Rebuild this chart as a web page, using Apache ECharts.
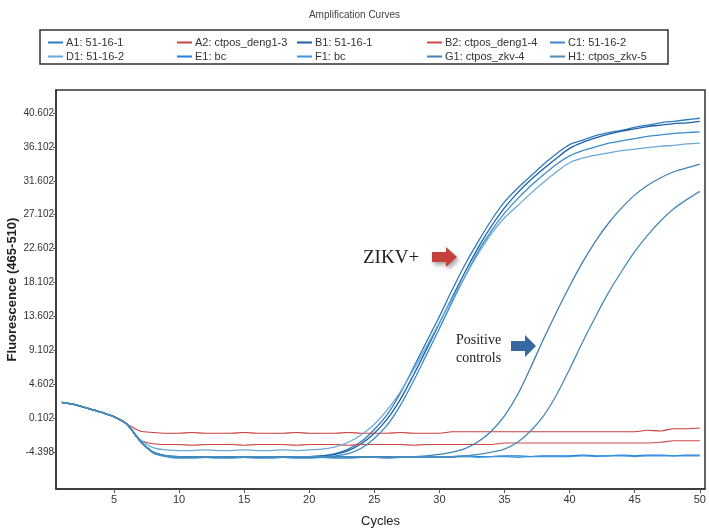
<!DOCTYPE html>
<html>
<head>
<meta charset="utf-8">
<script src="https://cdn.jsdelivr.net/npm/echarts@6.0.0/dist/echarts.min.js"></script>
<style>
  html, body { margin: 0; padding: 0; background: #ffffff; }
  #chart { width: 709px; height: 530px; }
</style>
</head>
<body>
<div id="chart"></div>
<script>
// qPCR amplification curves, fluorescence (465-510) per cycle
const cycles = [1, 2, 3, 4, 5, 6, 7, 8, 9, 10, 11, 12, 13, 14, 15, 16, 17, 18, 19, 20,
  21, 22, 23, 24, 25, 26, 27, 28, 29, 30, 31, 32, 33, 34, 35, 36, 37, 38, 39, 40,
  41, 42, 43, 44, 45, 46, 47, 48, 49, 50]

const xTicks = [5, 10, 15, 20, 25, 30, 35, 40, 45, 50]
const yTicks = [-4.398, 0.102, 4.602, 9.102, 13.602, 18.102, 22.602, 27.102, 31.602, 36.102, 40.602]

const A1 = [2.2, 1.9, 1.4, 0.9, 0.3, -0.7, -2.9, -4.4, -4.9,
  -5.0, -5.1, -5.0, -5.0, -5.1, -5.0, -5.0, -5.0, -5.1, -5.0, -5.0,
  -4.9, -4.6, -4.0, -3.0, -1.4, 0.6, 3.4, 6.8, 10.2, 13.6,
  17.2, 20.6, 23.6, 26.4, 28.8, 30.6, 32.2, 33.8, 35.2, 36.4,
  37.0, 37.6, 38.0, 38.3, 38.7, 39.0, 39.3, 39.5, 39.7, 39.9]
const A2 = [2.2, 1.9, 1.4, 0.9, 0.3, -0.7, -1.6, -1.8,
  -1.9, -1.9, -1.8, -1.9, -1.9, -1.9, -1.8, -1.9, -1.9, -1.9, -1.8,
  -1.9, -1.9, -1.9, -1.8, -1.9, -1.9, -1.9, -1.8, -1.9, -1.9, -1.9,
  -1.7, -1.7, -1.7, -1.7, -1.7, -1.7, -1.7, -1.7, -1.7, -1.7, -1.7, -1.7, -1.7, -1.7, -1.7,
  -1.5, -1.6, -1.3, -1.3, -1.2]
const B1 = [2.2, 1.9, 1.4, 0.9, 0.3, -0.7, -2.9, -4.4, -4.9,
  -5.1, -5.1, -5.0, -5.1, -5.1, -5.0, -5.1, -5.0, -5.1, -5.1, -5.0,
  -4.9, -4.7, -4.2, -3.3, -1.9, 0.0, 2.6, 5.8, 9.2, 12.7,
  16.2, 19.6, 22.8, 25.6, 28.0, 30.0, 31.7, 33.2, 34.6, 35.9,
  36.7, 37.3, 37.8, 38.2, 38.5, 38.8, 39.0, 39.2, 39.3, 39.5]
const B2 = [2.2, 1.9, 1.4, 0.9, 0.3, -0.7, -2.8, -3.3,
  -3.4, -3.4, -3.5, -3.4, -3.4, -3.4, -3.5, -3.4, -3.4, -3.4, -3.5, -3.4, -3.4,
  -3.4, -3.5, -3.4, -3.4, -3.4, -3.4, -3.5, -3.4, -3.4, -3.4, -3.4, -3.4, -3.4,
  -3.2, -3.2, -3.2, -3.2, -3.2, -3.2, -3.2, -3.2, -3.2, -3.2, -3.2, -3.2, -3.1,
  -2.9, -2.9, -2.9]
const C1 = [2.2, 1.9, 1.4, 0.9, 0.3, -0.7, -2.9, -4.4, -4.9,
  -5.0, -5.0, -5.0, -5.1, -5.0, -5.0, -5.0, -5.1, -5.0, -5.0, -5.0,
  -5.0, -4.9, -4.6, -3.9, -2.6, -0.8, 1.8, 5.0, 8.5, 12.0,
  15.6, 19.0, 22.3, 25.0, 27.3, 29.2, 30.9, 32.4, 33.8, 34.9,
  35.6, 36.1, 36.6, 36.9, 37.2, 37.5, 37.7, 37.9, 38.0, 38.1]
const D1 = [2.2, 1.9, 1.4, 0.9, 0.3, -0.7, -2.7, -3.8, -4.1,
  -4.2, -4.2, -4.1, -4.2, -4.2, -4.1, -4.2, -4.2, -4.1, -4.2, -4.1,
  -4.0, -3.7, -3.1, -2.1, -0.7, 1.2, 3.6, 6.5, 9.6, 12.8,
  16.0, 19.0, 22.0, 24.6, 26.7, 28.3, 29.9, 31.4, 32.8, 34.0,
  34.6, 35.0, 35.3, 35.6, 35.8, 36.0, 36.2, 36.3, 36.5, 36.6]
const E1 = [2.2, 1.9, 1.4, 0.9, 0.3, -0.7, -2.9, -4.4, -4.9,
  -5.1, -5.1, -5.0, -5.1, -5.1, -5.1, -5.0, -5.1, -5.1, -5.0, -5.1,
  -5.1, -5.0, -5.1, -5.1, -5.0, -5.0, -5.1, -5.0, -5.0, -5.0,
  -5.0, -4.9, -5.0, -5.0, -4.9, -4.9, -5.0, -4.9, -4.9, -4.9,
  -4.8, -4.9, -4.9, -4.8, -4.9, -4.8, -4.8, -4.9, -4.8, -4.8]
const F1 = [2.2, 1.9, 1.4, 0.9, 0.3, -0.7, -2.9, -4.5, -5.0,
  -5.2, -5.2, -5.1, -5.2, -5.2, -5.1, -5.2, -5.2, -5.1, -5.2, -5.2,
  -5.1, -5.2, -5.2, -5.1, -5.1, -5.2, -5.1, -5.1, -5.1, -5.1,
  -5.1, -5.0, -5.1, -5.0, -5.0, -5.1, -5.0, -5.0, -5.0, -5.0,
  -4.9, -5.0, -4.9, -4.9, -5.0, -4.9, -4.9, -4.9, -4.9, -4.9]
const G1 = [2.2, 1.9, 1.4, 0.9, 0.3, -0.7, -2.9, -4.4, -4.9,
  -5.0, -5.0, -5.1, -5.0, -5.0, -5.0, -5.1, -5.0, -5.0, -5.0,
  -5.1, -5.0, -5.0, -5.0, -5.1, -5.0, -5.0, -5.0, -5.0,
  -4.9, -4.7, -4.4, -3.9, -3.0, -1.6, 0.4, 3.2, 6.8, 10.6, 14.2,
  17.6, 20.8, 23.6, 26.0, 28.0, 29.7, 31.0, 32.0, 32.8, 33.3, 33.8]
const H1 = [2.2, 1.9, 1.4, 0.9, 0.3, -0.7, -2.9, -4.4, -4.9,
  -5.0, -5.1, -5.0, -5.0, -5.1, -5.0, -5.0, -5.0, -5.1, -5.0,
  -5.0, -5.0, -5.1, -5.0, -5.0, -5.0, -5.1, -5.0, -5.0, -5.0, -5.0, -5.0,
  -4.9, -4.7, -4.4, -4.0, -3.1, -1.6, 0.4, 3.2, 6.6, 10.2,
  13.6, 16.8, 19.6, 22.2, 24.4, 26.3, 27.9, 29.1, 30.2]

const seriesList = [
  { name: 'A1: 51-16-1', data: A1, color: '#2e7cc0' },
  { name: 'A2: ctpos_deng1-3', data: A2, color: '#c9403c' },
  { name: 'B1: 51-16-1', data: B1, color: '#1d5fa6' },
  { name: 'B2: ctpos_deng1-4', data: B2, color: '#cc4a46' },
  { name: 'C1: 51-16-2', data: C1, color: '#3a8acb' },
  { name: 'D1: 51-16-2', data: D1, color: '#6ba9d8' },
  { name: 'E1: bc', data: E1, color: '#1f80e0' },
  { name: 'F1: bc', data: F1, color: '#3b94e0' },
  { name: 'G1: ctpos_zkv-4', data: G1, color: '#3f82b3' },
  { name: 'H1: ctpos_zkv-5', data: H1, color: '#4a8cb6' }
]

const sans = "'Liberation Sans', Arial, sans-serif"
const serif = "'Liberation Serif', 'DejaVu Serif', serif"

// legend is a 5 x 2 grid: one vertical legend per column
const legendCols = [
  ['A1: 51-16-1', 'D1: 51-16-2'],
  ['A2: ctpos_deng1-3', 'E1: bc'],
  ['B1: 51-16-1', 'F1: bc'],
  ['B2: ctpos_deng1-4', 'G1: ctpos_zkv-4'],
  ['C1: 51-16-2', 'H1: ctpos_zkv-5']
]
const legendLeft = [43, 172, 292, 422, 545]

const myChart = echarts.init(document.getElementById('chart'))

const option = {
  animation: false,
  title: {
    text: 'Amplification Curves',
    left: 'center',
    top: 5,
    textStyle: { fontSize: 10, fontWeight: 'normal', color: '#444', fontFamily: sans }
  },
  legend: legendCols.map((names, i) => ({
    orient: 'vertical',
    left: legendLeft[i],
    top: 32,
    itemGap: 3,
    itemWidth: 15,
    itemHeight: 2,
    icon: 'rect',
    selectedMode: false,
    data: names,
    textStyle: { fontSize: 11, color: '#333', fontFamily: sans, padding: [0, 0, 0, -2] }
  })),
  grid: {
    show: true,
    left: 56,
    right: 4,
    top: 90,
    bottom: 41,
    outerBoundsMode: 'none',
    containLabel: false,
    borderColor: '#333',
    borderWidth: 1.5
  },
  xAxis: {
    type: 'value',
    min: 0.55,
    max: 50.4,
    name: 'Cycles',
    nameLocation: 'middle',
    nameGap: 26,
    nameMoveOverlap: false,
    nameTextStyle: { fontSize: 13, color: '#222', fontFamily: sans },
    axisLine: { show: true, onZero: false, lineStyle: { color: '#333', width: 1.5 } },
    axisTick: { show: true, length: 4, customValues: xTicks, lineStyle: { color: '#555' } },
    axisLabel: { color: '#333', fontSize: 11, fontFamily: sans, margin: 5, customValues: xTicks },
    splitLine: { show: false }
  },
  yAxis: {
    type: 'value',
    min: -9.3,
    max: 43.65,
    name: 'Fluorescence (465-510)',
    nameLocation: 'middle',
    nameGap: 37,
    nameMoveOverlap: false,
    nameTextStyle: { fontSize: 13, fontWeight: 'bold', color: '#222', fontFamily: sans },
    axisLine: { show: true, onZero: false, lineStyle: { color: '#333', width: 1.5 } },
    axisTick: { show: true, length: 3, customValues: yTicks, lineStyle: { color: '#555' } },
    axisLabel: {
      color: '#333',
      fontSize: 10,
      fontFamily: sans,
      margin: 2,
      customValues: yTicks,
      formatter: (value) => value.toFixed(3)
    },
    splitLine: { show: false }
  },
  series: seriesList.map((s) => ({
    name: s.name,
    type: 'line',
    data: cycles.map((c, i) => [c, s.data[i]]),
    symbol: 'none',
    smooth: 0.3,
    itemStyle: { color: s.color },
    lineStyle: { color: s.color, width: s.color[1] === 'c' ? 1.1 : 1.3 }
  })),
  graphic: [
    {
      type: 'rect',
      shape: { x: 40, y: 30, width: 628, height: 34 },
      style: { fill: 'none', stroke: '#333', lineWidth: 1.5 }
    },
    {
      type: 'text',
      x: 363,
      y: 258,
      style: { text: 'ZIKV+', font: '19px ' + serif, fill: '#222', verticalAlign: 'middle' }
    },
    {
      type: 'polygon',
      shape: { points: [[432, 252], [446, 252], [446, 247], [457, 257], [446, 267], [446, 262], [432, 262]] },
      style: { fill: '#c2413d', shadowBlur: 4, shadowColor: 'rgba(0,0,0,0.35)', shadowOffsetX: 2, shadowOffsetY: 3 }
    },
    {
      type: 'text',
      x: 456,
      y: 340,
      style: { text: 'Positive', font: '14px ' + serif, fill: '#222', verticalAlign: 'middle' }
    },
    {
      type: 'text',
      x: 456,
      y: 358,
      style: { text: 'controls', font: '14px ' + serif, fill: '#222', verticalAlign: 'middle' }
    },
    {
      type: 'polygon',
      shape: { points: [[511, 341], [525, 341], [525, 335], [536, 346], [525, 357], [525, 351], [511, 351]] },
      style: { fill: '#3567a0' }
    }
  ]
}

myChart.setOption(option)
</script>
</body>
</html>
